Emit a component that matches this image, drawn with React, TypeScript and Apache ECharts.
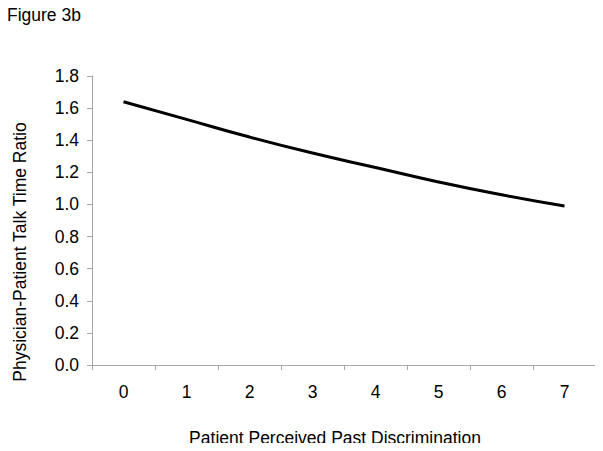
import React, { useEffect, useRef } from "react";
import * as echarts from "echarts";

const categories = ["0", "1", "2", "3", "4", "5", "6", "7"];
const talkTimeRatio = [1.64, 1.53, 1.42, 1.32, 1.23, 1.14, 1.06, 0.99];
const yTicks = { min: 0, max: 1.8, interval: 0.2 };
const titleText = "Figure 3b";
const xName = "Patient Perceived Past Discrimination";
const yName = "Physician-Patient Talk Time Ratio";

const FONT = "'Liberation Sans', Arial, sans-serif";
const FS = 17.5;

export default function App() {
  const ref = useRef<HTMLDivElement>(null);
  useEffect(() => {
    if (!ref.current) return;
    const chart = echarts.init(ref.current, undefined, { renderer: "svg" });
    chart.setOption({
      animation: false,
      backgroundColor: "#ffffff",
      grid: { left: 92, right: 7, top: 76, bottom: 86, containLabel: false },
      graphic: [
        {
          type: "text",
          x: 7,
          y: 14.5,
          style: {
            text: titleText,
            fontSize: FS,
            fontFamily: FONT,
            fill: "#000",
            align: "left",
            verticalAlign: "middle",
          },
        },
        {
          type: "text",
          x: 335,
          y: 438,
          style: {
            text: xName,
            fontSize: FS,
            fontFamily: FONT,
            fill: "#000",
            align: "center",
            verticalAlign: "middle",
          },
        },
        {
          type: "text",
          x: 20,
          y: 252,
          rotation: Math.PI / 2,
          style: {
            text: yName,
            fontSize: FS,
            fontFamily: FONT,
            fill: "#000",
            align: "center",
            verticalAlign: "middle",
          },
        },
      ],
      xAxis: {
        type: "category",
        data: categories,
        boundaryGap: true,
        axisLine: { show: true, lineStyle: { color: "#a6a6a6", width: 1 } },
        axisTick: { show: true, length: 5, lineStyle: { color: "#a6a6a6" } },
        axisLabel: { color: "#000", fontSize: FS, fontFamily: FONT, margin: 18 },
        splitLine: { show: false },
      },
      yAxis: {
        type: "value",
        min: yTicks.min,
        max: yTicks.max,
        interval: yTicks.interval,
        axisLine: { show: true, lineStyle: { color: "#a6a6a6", width: 1 } },
        axisTick: { show: true, length: 5, lineStyle: { color: "#a6a6a6" } },
        axisLabel: {
          color: "#000",
          fontSize: FS,
          fontFamily: FONT,
          margin: 13,
          formatter: (v: number) => v.toFixed(1),
        },
        splitLine: { show: false },
      },
      series: [
        {
          type: "line",
          data: talkTimeRatio,
          smooth: true,
          showSymbol: false,
          symbol: "none",
          lineStyle: { color: "#000", width: 3 },
        },
      ],
    });
    return () => chart.dispose();
  }, []);
  return <div ref={ref} style={{ width: 603, height: 451, margin: -8 }} />;
}
